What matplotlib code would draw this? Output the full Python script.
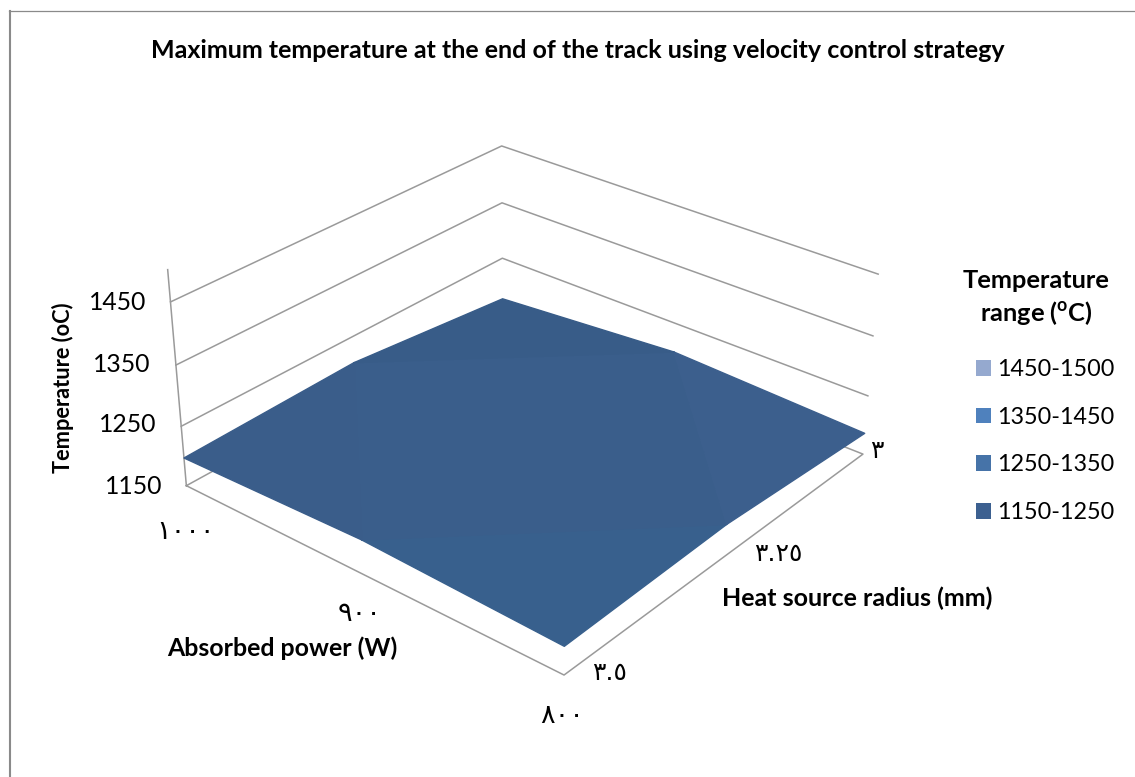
import numpy as np
import matplotlib
matplotlib.use("Agg")
import matplotlib.pyplot as plt
from matplotlib.lines import Line2D
from matplotlib.patches import Patch
from matplotlib.tri import Triangulation

W, H = 1135, 777
FONT = ['Lato', 'DejaVu Sans']
ARABIC = ['DejaVu Sans']
GREY = '#9A9A9A'

# ---- data ----
powers = [1000, 900, 800]
radii = [3.0, 3.25, 3.5]
temps = [[1175, 1204, 1197],
         [1199, 1203, 1206],
         [1186, 1202, 1195]]
z_ticks = [1150, 1250, 1350, 1450]
z_top = 1500
power_labels = ['١٠٠٠', '٩٠٠', '٨٠٠']
radius_labels = ['٣', '٣.٢٥', '٣.٥']
legend_labels = ['1450-1500', '1350-1450', '1250-1350', '1150-1250']
legend_colors = ['#95A9CF', '#4F81BD', '#4673A8', '#3C6090']
# facets of the surface, as (i, j) grid indices, with their shades
facets = [((0, 2), (0, 1), (1, 2)),   # left
          ((0, 1), (0, 0), (1, 0)),   # back
          ((1, 0), (2, 0), (2, 1)),   # right
          ((1, 2), (2, 1), (2, 2)),   # front
          ((0, 1), (1, 0), (1, 1)),
          ((1, 0), (2, 1), (1, 1)),
          ((2, 1), (1, 2), (1, 1)),
          ((1, 2), (0, 1), (1, 1))]
facet_colors = ['#3A5D8A', '#385C88', '#3C5F8D', '#38608D',
                '#3A5E8B', '#3A5E8B', '#3A5E8B', '#3A5E8B']

# ---- camera: reference points of the box (data coords -> pixel) ----
camera_points = [
    ((1000, 3.5, 1150), (186, 486)), ((800, 3.5, 1150), (564, 675)), ((800, 3.0, 1150), (863, 454)),
    ((1000, 3.5, 1250), (182, 426)), ((1000, 3.0, 1250), (502, 258)), ((800, 3.0, 1250), (868, 396)),
    ((1000, 3.5, 1350), (176, 365)), ((1000, 3.0, 1350), (502, 203)), ((800, 3.0, 1350), (873, 336)),
    ((1000, 3.5, 1450), (170, 302)), ((1000, 3.0, 1450), (502, 146)), ((800, 3.0, 1450), (878, 274)),
]

fig = plt.figure(figsize=(W / 100, H / 100), dpi=100, facecolor='white')
ax = fig.add_axes([0, 0, 1, 1], projection='3d')
ax.set_axis_off()
ax.patch.set_alpha(0)
ax.computed_zorder = False
ax.apply_aspect()


def build_matrix():
    T = np.array([[1 / 100, 0, 0, -9], [0, 4, 0, -13], [0, 0, 1 / 100, -13], [0, 0, 0, 1.0]])
    rows = []
    for (w, (u, v)) in camera_points:
        X = T @ np.array([*w, 1.0])
        u, v = u / 500 - 1, v / 500 - 1
        rows.append(np.r_[X, np.zeros(4), -u * X])
        rows.append(np.r_[np.zeros(4), X, -v * X])
    vec = np.linalg.svd(np.array(rows))[2][-1]
    P = vec.reshape(3, 4)
    un = np.array([[500, 0, 500], [0, 500, 500], [0, 0, 1.0]])
    P = un @ P                                 # pixel coordinates, y down
    flip = np.array([[1, 0, 0], [0, -1, H], [0, 0, 1.0]])
    A = ax.transData.inverted().get_matrix() @ flip
    Q = A @ P
    centre = np.linalg.svd(Q)[2][-1]
    # depth stays negative (in front of the camera) for every point of the box
    depth = -0.5 * Q[2] + 1e-3 * np.abs(Q[2]).max() * centre
    M = np.vstack([Q[0], Q[1], depth, Q[2]])
    return M @ T


M = build_matrix()
ax.get_proj = lambda: M

P_grid, R_grid = np.meshgrid(powers, radii, indexing='ij')
tri_index = [[3 * i + j for i, j in facet] for facet in facets]
tri = Triangulation(P_grid.ravel().astype(float), R_grid.ravel(), triangles=tri_index)
surf = ax.plot_trisurf(tri, np.array(temps, float).ravel(), color=legend_colors[-1],
                       shade=False, linewidth=1.0, antialiased=True, zorder=5)
surf.set_facecolor(facet_colors)
surf.set_edgecolor(facet_colors)
surf.set_clip_on(False)

p0, p1 = powers[0], powers[-1]
r0, r1 = radii[0], radii[-1]
line_kw = dict(color=GREY, lw=1.1, zorder=2, clip_on=False)
ax.plot([p0, p1, p1, p0, p0], [r1, r1, r0, r0, r1], [z_ticks[0]] * 5, **line_kw)
ax.plot([p0, p0], [r1, r1], [z_ticks[0], z_top], **line_kw)
for z in z_ticks[1:]:
    ax.plot([p0, p0, p1], [r1, r0, r0], [z, z, z], **line_kw)


def px_text(x, y, s, **kw):
    kw.setdefault('family', FONT)
    kw.setdefault('ha', 'center')
    kw.setdefault('va', 'center')
    return fig.text(x / W, 1 - y / H, s, **kw)


px_text(578, 50, 'Maximum temperature at the end of the track using velocity control strategy',
        fontsize=18, fontweight='bold', color='black')
px_text(63, 388, 'Temperature (oC)', rotation=90, fontsize=15.7, fontweight='bold')
px_text(282, 648, 'Absorbed power (W)', fontsize=17.9, fontweight='bold')
px_text(857, 598, 'Heat source radius (mm)', fontsize=18, fontweight='bold')

for z, (x, y) in zip(z_ticks, [(162, 486), (156, 425), (150, 364), (146, 303)]):
    px_text(x, y, str(z), ha='right', fontsize=17.8)
for s, (x, y) in zip(power_labels, [(186, 532), (360, 614), (562, 716)]):
    px_text(x, y, s, family=ARABIC, fontsize=19.5)
for s, (x, y) in zip(radius_labels, [(877, 451), (778, 554), (610, 673)]):
    px_text(x, y, s, family=ARABIC, fontsize=18)

px_text(1036, 280, 'Temperature', fontsize=18.3, fontweight='bold')
px_text(1036, 313, 'range ($\\mathregular{^{o}}$C)', fontsize=18.3, fontweight='bold')

handles = [Patch(facecolor=c, edgecolor='none') for c in legend_colors]
leg = fig.legend(handles, legend_labels, loc='upper left', bbox_to_anchor=(976 / W, 1 - 359 / H),
                 frameon=False, prop={'family': FONT, 'size': 16.85},
                 handlelength=0.66, handleheight=0.66, handletextpad=0.25, labelspacing=1.14,
                 borderpad=0, borderaxespad=0)

fig.add_artist(Line2D([9.5 / W, 9.5 / W], [0, 1 - 10.5 / H], color='#8A8A8A', lw=1.5))
fig.add_artist(Line2D([9 / W, 1], [1 - 10.5 / H, 1 - 10.5 / H], color='#8A8A8A', lw=0.9))

fig.savefig('out.png', dpi=100)
